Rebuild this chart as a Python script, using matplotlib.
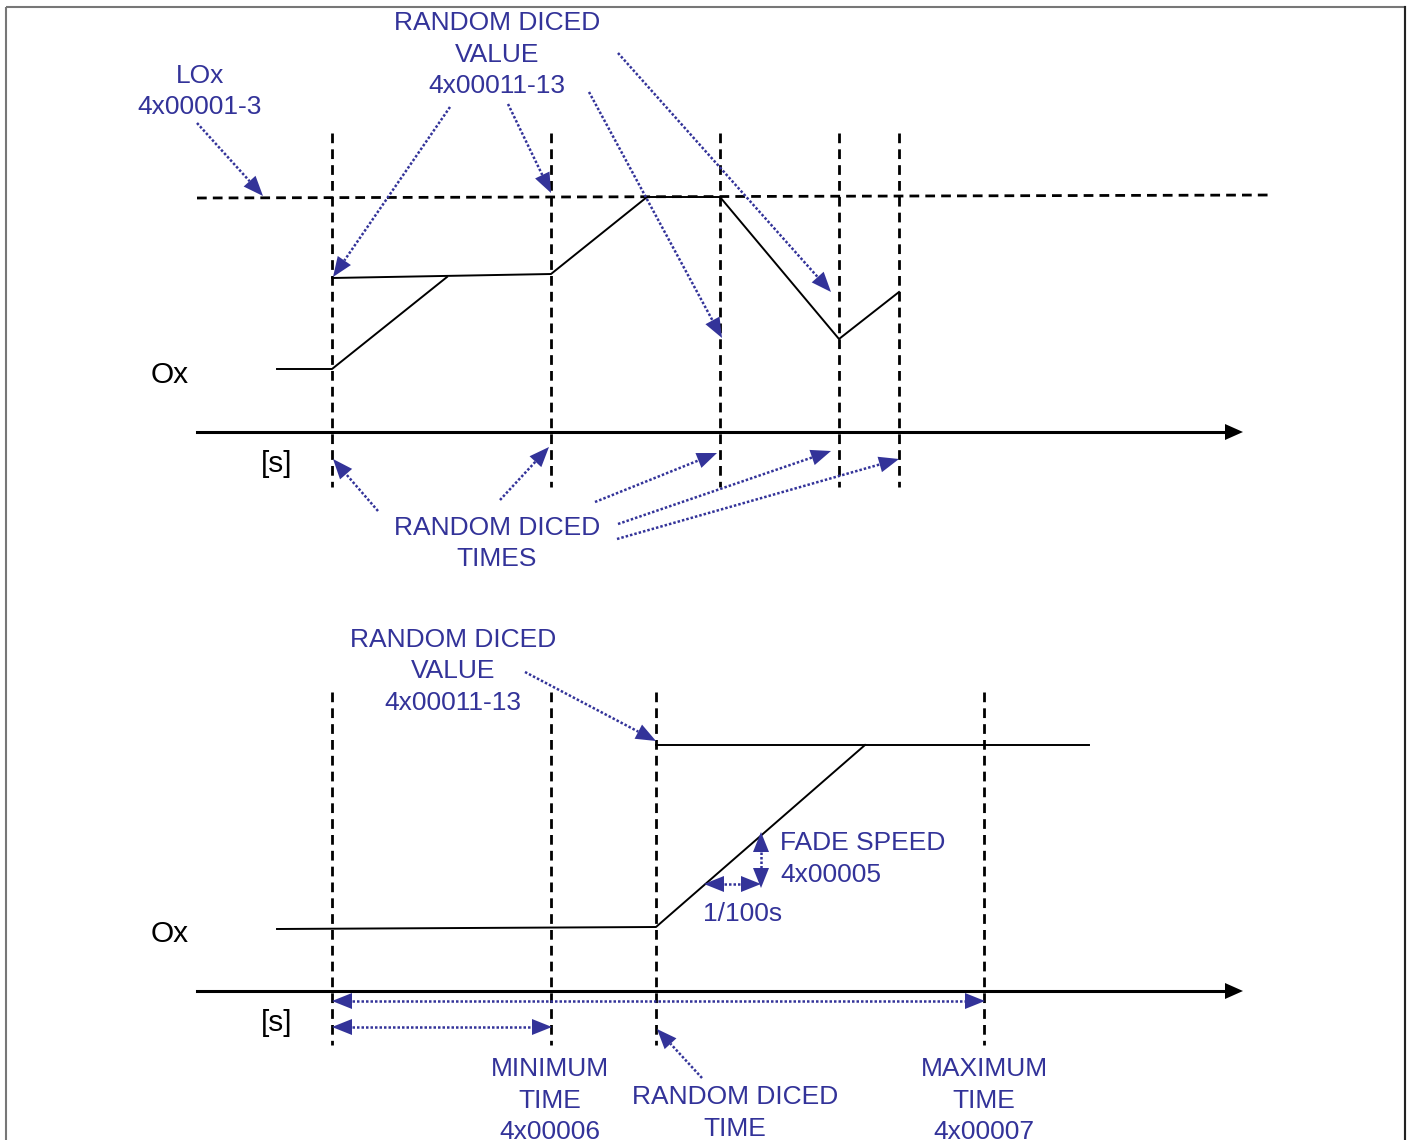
import numpy as np
import matplotlib
matplotlib.use("Agg")
from matplotlib import pyplot as plt
from matplotlib.patches import Polygon, Rectangle

BLUE = "#333399"
plt.rcParams['font.family'] = ['Liberation Sans', 'DejaVu Sans']

# --- diagram data (pixel coordinates of the reference, y downwards) ---
axis_x = [197, 1243]
top_axis_y = 432
bot_axis_y = 991

top_times = [332, 551, 720, 839, 899]
top_vline_y = [133, 487]
bot_times = [332, 551, 656, 984]
bot_vline_y = [692, 1045]

lox_x = [197, 1272]
lox_y = [198, 195]

# top signal: start ramp and main path
ramp_x = [277, 332, 447]
ramp_y = [369, 369, 277]
path_x = [332, 551, 647, 720, 839, 899]
path_y = [278, 274, 197, 197, 339, 292]

# bottom signal
bot_x = [277, 656, 865]
bot_y = [929, 927, 745]
bot_top_x = [656, 1089]
bot_top_y = [745, 745]

# annotation arrows: (x0, y0, x1, y1)
top_arrows = [
    (197, 123, 263, 196),
    (450, 107, 333, 277),
    (508, 104, 551, 193),
    (589, 92, 722, 338),
    (618, 53, 831, 292),
    (378, 511, 333, 459),
    (500, 500, 549, 447),
    (595, 502, 717, 453),
    (618, 524, 831, 451),
    (617, 539, 899, 459),
]
bot_arrows = [
    (525, 672, 656, 741),
    (702, 1078, 657, 1029),
]
double_arrows = [
    (332, 1001, 985, 1001),
    (332, 1027, 552, 1027),
    (704, 884, 761, 884),
    (761, 832, 761, 888),
]

# text blocks: (x, first line y, lines, ha)
blue_texts = [
    (497, 23, ["RANDOM DICED", "VALUE", "4x00011-13"], "center"),
    (200, 76, ["LOx", "4x00001-3"], "center"),
    (497, 528, ["RANDOM DICED", "TIMES"], "center"),
    (453, 640, ["RANDOM DICED", "VALUE", "4x00011-13"], "center"),
    (780, 843, ["FADE SPEED", "4x00005"], "left"),
    (743, 914, ["1/100s"], "center"),
    (550, 1069, ["MINIMUM", "TIME", "4x00006"], "center"),
    (735, 1097, ["RANDOM DICED", "TIME"], "center"),
    (984, 1069, ["MAXIMUM", "TIME", "4x00007"], "center"),
]
black_texts = [(170, 375, "Ox"), (277, 464, "[s]"), (170, 934, "Ox"), (277, 1023, "[s]")]

W, H = 1411, 1140
fig = plt.figure(figsize=(W / 100, H / 100), dpi=100)
ax = fig.add_axes([0, 0, 1, 1])
ax.set_xlim(0, W)
ax.set_ylim(H, 0)
ax.axis("off")

ax.add_patch(Rectangle((6, 7), 1399, 1150, fill=False, ec="#777777", lw=1.5))
ax.plot([1405, 1405], [7, 1140], color="#222222", lw=1.5)

dash = dict(color="black", lw=2.0, linestyle=(0, (3.5, 2.2)))
sig = dict(color="black", lw=1.4)


def head(x0, y0, x1, y1, L=20, Wd=16):
    u = np.array([x1 - x0, y1 - y0], dtype=float)
    u /= np.hypot(*u)
    n = np.array([-u[1], u[0]])
    tip = np.array([x1, y1])
    base = tip - L * u
    ax.add_patch(Polygon([tip, base + n * Wd / 2, base - n * Wd / 2],
                         closed=True, color=BLUE, lw=0, zorder=5))
    return base


def arrow(x0, y0, x1, y1):
    b = head(x0, y0, x1, y1)
    ax.plot([x0, b[0]], [y0, b[1]], color=BLUE, lw=1.8,
            linestyle=(0, (1, 0.8)), zorder=4)


def darrow(x0, y0, x1, y1):
    b1 = head(x0, y0, x1, y1)
    b0 = head(x1, y1, x0, y0)
    ax.plot([b0[0], b1[0]], [b0[1], b1[1]], color=BLUE, lw=1.8,
            linestyle=(0, (1, 0.8)), zorder=4)


for t in top_times:
    ax.plot([t, t], top_vline_y, **dash)
for t in bot_times:
    ax.plot([t, t], bot_vline_y, **dash)
ax.plot(lox_x, lox_y, **dash)

for ay in (top_axis_y, bot_axis_y):
    ax.plot([axis_x[0], axis_x[1] - 16], [ay, ay], color="black", lw=2.2)
    ax.add_patch(Polygon([(axis_x[1], ay), (axis_x[1] - 18, ay - 8), (axis_x[1] - 18, ay + 8)],
                         closed=True, color="black", lw=0))

ax.plot(ramp_x, ramp_y, **sig)
ax.plot(path_x, path_y, **sig)
ax.plot(bot_x, bot_y, **sig)
ax.plot(bot_top_x, bot_top_y, **sig)

for a in top_arrows + bot_arrows:
    arrow(*a)
for a in double_arrows:
    darrow(*a)

for x, y, lines, ha in blue_texts:
    for i, s in enumerate(lines):
        ax.text(x, y + i * 31.5, s, color=BLUE, fontsize=19, ha=ha, va="center")
for x, y, s in black_texts:
    ax.text(x, y, s, color="black", fontsize=21.5, ha="center", va="center")

fig.savefig("out.png", dpi=100)
